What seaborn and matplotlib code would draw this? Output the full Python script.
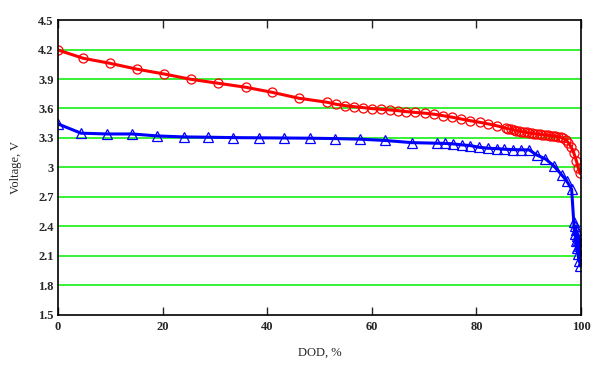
import matplotlib
matplotlib.use("Agg")
import matplotlib.pyplot as plt
import seaborn as sns
import pandas as pd

# red curve (circles)
red_dod = [0, 4.8, 9.9, 15.1, 20.3, 25.4, 30.6, 35.9, 40.9, 46.1, 51.4, 53.2, 54.9,
           56.6, 58.3, 60.0, 61.8, 63.5, 65.0, 66.6, 68.3, 70.2, 71.9, 73.6, 75.4,
           77.0, 78.8, 80.6, 82.3, 84.0, 85.6, 86.1, 86.6, 87.1, 87.6, 88.1, 88.6,
           89.1, 89.6, 90.1, 90.6, 91.1, 91.6, 92.1, 92.6, 93.1, 93.6, 94.1, 94.6,
           95.1, 95.6, 96.1, 96.6, 97.1, 97.6, 98.1, 98.6, 99.1, 99.5, 99.8]
red_v = [4.195, 4.111, 4.06, 4.0, 3.951, 3.897, 3.857, 3.816, 3.765, 3.704, 3.664,
         3.643, 3.629, 3.619, 3.609, 3.599, 3.592, 3.585, 3.578, 3.568, 3.56, 3.552,
         3.542, 3.527, 3.511, 3.494, 3.476, 3.46, 3.443, 3.423, 3.40, 3.394, 3.388,
         3.382, 3.376, 3.371, 3.366, 3.361, 3.356, 3.352, 3.348, 3.344, 3.34, 3.337,
         3.334, 3.331, 3.328, 3.325, 3.322, 3.318, 3.313, 3.306, 3.295, 3.28, 3.25,
         3.21, 3.15, 3.07, 2.99, 2.94]

# blue curve (triangles)
blue_dod = [0, 4.4, 9.4, 14.2, 19.0, 24.0, 28.7, 33.5, 38.4, 43.3, 48.1, 53.0,
            57.7, 62.5, 67.6, 72.4, 74.0, 75.6, 77.2, 78.8, 80.5, 82.2, 83.9, 85.3,
            86.9, 88.5, 90.1, 91.5, 93.2, 94.8, 96.3, 97.3, 98.2, 98.6, 98.8, 98.9,
            99.0, 99.1, 99.2, 99.3, 99.4, 99.5, 99.6, 99.7, 99.8]
blue_v = [3.443, 3.349, 3.341, 3.341, 3.321, 3.311, 3.308, 3.304, 3.302, 3.30,
          3.298, 3.294, 3.288, 3.275, 3.253, 3.247, 3.245, 3.24, 3.23, 3.223, 3.206,
          3.196, 3.192, 3.186, 3.182, 3.18, 3.179, 3.128, 3.087, 3.016, 2.925, 2.86,
          2.78, 2.45, 2.32, 2.40, 2.25, 2.36, 2.18, 2.30, 2.12, 2.26, 2.05, 2.20, 2.0]

y_ticks = [1.5, 1.8, 2.1, 2.4, 2.7, 3, 3.3, 3.6, 3.9, 4.2, 4.5]
x_ticks = [0, 20, 40, 60, 80, 100]

red_df = pd.DataFrame({"dod": red_dod, "v": red_v})
blue_df = pd.DataFrame({"dod": blue_dod, "v": blue_v})

sns.set_style("white")
plt.rcParams["font.family"] = ["Liberation Serif", "DejaVu Serif"]

fig = plt.figure(figsize=(6.04, 3.67), dpi=100)
ax = fig.add_axes([0.096, 0.1417, 0.866, 0.8038])

# green horizontal grid lines
for y in y_ticks[1:-1]:
    ax.axhline(y, color="#00ee00", lw=1.1, zorder=0)

sns.lineplot(data=red_df, x="dod", y="v", ax=ax, color="red", lw=2.2,
             marker="o", markersize=6.5, markerfacecolor="none",
             markeredgecolor="red", markeredgewidth=0.9)
sns.lineplot(data=blue_df, x="dod", y="v", ax=ax, color="blue", lw=2.2,
             marker="^", markersize=6.5, markerfacecolor="none",
             markeredgecolor="blue", markeredgewidth=0.9)

ax.set_xlim(0, 100)
ax.set_ylim(1.5, 4.5)
ax.set_xticks(x_ticks)
ax.set_yticks(y_ticks)
ax.set_yticklabels([f"{t:g}" for t in y_ticks], fontsize=9, fontweight="bold")
ax.set_xticklabels([str(t) for t in x_ticks], fontsize=9, fontweight="bold")
ax.tick_params(axis="x", direction="in", length=6, width=1, top=True, bottom=True, pad=4)
ax.tick_params(axis="y", length=0, pad=3)
for s in ax.spines.values():
    s.set_color("black")
    s.set_linewidth(1.2)
    s.set_visible(True)

ax.set_xlabel("DOD, %", fontsize=9, labelpad=10)
ax.set_ylabel("Voltage, V", fontsize=9, labelpad=12)

fig.savefig("out.png", dpi=100)
